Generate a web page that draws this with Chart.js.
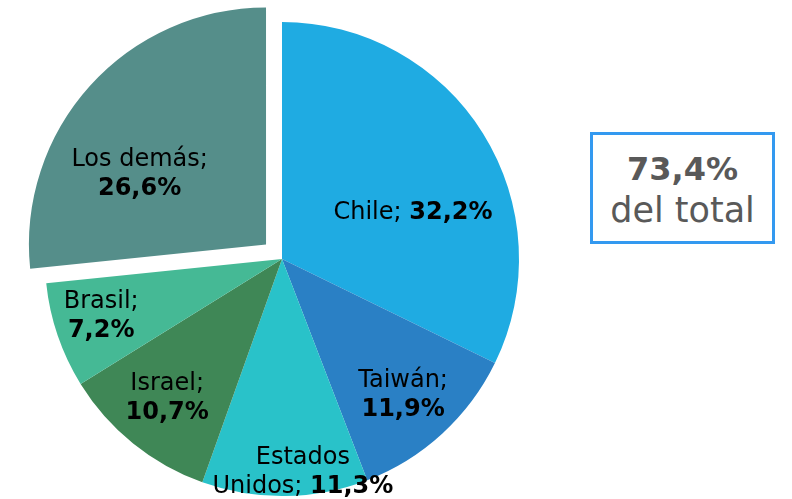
<!DOCTYPE html>
<html>
<head>
<meta charset="utf-8">
<script src="https://cdn.jsdelivr.net/npm/chart.js@4.4.1/dist/chart.umd.min.js"></script>
<style>
  html, body { margin: 0; padding: 0; background: #fff; overflow: hidden; }
  body { width: 792px; height: 499px; position: relative; }
  #chartWrap { position: absolute; left: 0; top: 0; width: 564px; height: 518px; }
  #totalBox {
    position: absolute; left: 590px; top: 132px; width: 179px; height: 106px;
    border: 3px solid #3399f0; box-sizing: content-box;
    font-family: "DejaVu Sans", sans-serif; color: #595959; text-align: center;
  }
  #totalBox .big { font-weight: bold; font-size: 32px; margin-top: 15px; line-height: 38px; }
  #totalBox .small { font-size: 35px; line-height: 44px; }
</style>
</head>
<body>
<div id="chartWrap"><canvas id="pieChart"></canvas></div>
<div id="totalBox"><div class="big">73,4%</div><div class="small">del total</div></div>
<script>
// Data
const countries = ["Chile", "Taiwán", "Estados Unidos", "Israel", "Brasil", "Los demás"];
const shares = [32.2, 11.9, 11.3, 10.7, 7.2, 26.6];
const shareLabels = ["32,2%", "11,9%", "11,3%", "10,7%", "7,2%", "26,6%"];
const colors = ["#1fabe2", "#2a80c5", "#29c2c9", "#3f8756", "#45b995", "#558e8a"];

// label lines: [normal text, bold text] per line
const labelLines = [
  [["Chile; ", shareLabels[0]]],
  [["Taiwán;", ""], ["", shareLabels[1]]],
  [["Estados", ""], ["Unidos; ", shareLabels[2]]],
  [["Israel;", ""], ["", shareLabels[3]]],
  [["Brasil;", ""], ["", shareLabels[4]]],
  [["Los demás;", ""], ["", shareLabels[5]]],
];

// label placement: angle (deg clockwise from top) and radius fraction
const labelPlace = [
  { a: 70.6, r: 0.586 },
  { a: 138.3, r: 0.768 },
  { a: 174.4, r: 0.903 },
  { a: 219.6, r: 0.76 },
  { a: 252.5, r: 0.80 },
  { a: 299, r: 0.61 },
];

const normalFont = '24px "DejaVu Sans", sans-serif';
const boldFont = 'bold 24px "DejaVu Sans", sans-serif';
const lineHeight = 29;

const sliceLabels = {
  id: "sliceLabels",
  afterDatasetsDraw(chart) {
    const ctx = chart.ctx;
    const meta = chart.getDatasetMeta(0);
    meta.data.forEach((arc, i) => {
      // arc elements are translated by offset / 4 in v4
      const offset = (arc.options.offset || 0) / 4;
      const mid = (arc.startAngle + arc.endAngle) / 2;
      const cx = arc.x + Math.cos(mid) * offset;
      const cy = arc.y + Math.sin(mid) * offset;
      const ang = (labelPlace[i].a - 90) * Math.PI / 180;
      const px = cx + Math.cos(ang) * arc.outerRadius * labelPlace[i].r;
      const py = cy + Math.sin(ang) * arc.outerRadius * labelPlace[i].r;
      const lines = labelLines[i];
      const top = py - (lines.length - 1) * lineHeight / 2;
      ctx.save();
      ctx.fillStyle = "#000";
      ctx.textBaseline = "middle";
      ctx.textAlign = "left";
      lines.forEach((ln, j) => {
        ctx.font = normalFont;
        const w1 = ctx.measureText(ln[0]).width;
        ctx.font = boldFont;
        const w2 = ctx.measureText(ln[1]).width;
        const x = px - (w1 + w2) / 2;
        const y = top + j * lineHeight;
        ctx.font = normalFont;
        ctx.fillText(ln[0], x, y);
        ctx.font = boldFont;
        ctx.fillText(ln[1], x + w1, y);
      });
      ctx.restore();
    });
  },
};

new Chart(document.getElementById("pieChart"), {
  type: "pie",
  data: {
    labels: countries,
    datasets: [
      {
        data: shares,
        backgroundColor: colors,
        borderWidth: 0,
        offset: [0, 0, 0, 0, 0, 86],
      },
    ],
  },
  options: {
    responsive: true,
    maintainAspectRatio: false,
    animation: false,
    radius: 237,
    plugins: {
      legend: { display: false },
      tooltip: { enabled: false },
    },
  },
  plugins: [sliceLabels],
});
</script>
</body>
</html>
